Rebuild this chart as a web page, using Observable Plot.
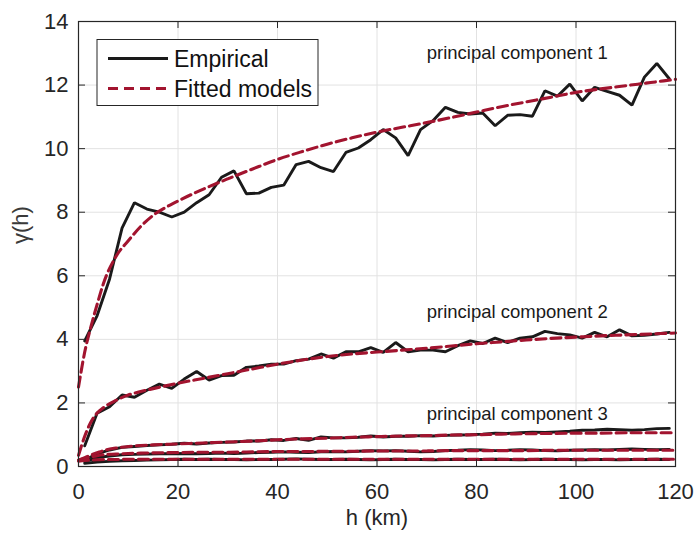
<!DOCTYPE html>
<html>
<head>
<meta charset="utf-8">
<script src="https://cdn.jsdelivr.net/npm/d3@7"></script>
<script src="https://cdn.jsdelivr.net/npm/@observablehq/plot@0.6"></script>
<style>
  html, body { margin: 0; padding: 0; background: #fff; }
  #chart svg { display: block; }
</style>
</head>
<body>
<div id="chart"></div>
<script>
// ---- Data ----
const lagH = [1.25, 3.75, 6.25, 8.75, 11.25, 13.75, 16.25, 18.75, 21.25, 23.75, 26.25, 28.75,
  31.25, 33.75, 36.25, 38.75, 41.25, 43.75, 46.25, 48.75, 51.25, 53.75, 56.25, 58.75,
  61.25, 63.75, 66.25, 68.75, 71.25, 73.75, 76.25, 78.75, 81.25, 83.75, 86.25, 88.75,
  91.25, 93.75, 96.25, 98.75, 101.25, 103.75, 106.25, 108.75, 111.25, 113.75, 116.25, 118.75];

const empPC1 = [3.95, 4.75, 5.9, 7.5, 8.3, 8.1, 8.0, 7.85, 8.0, 8.3, 8.55, 9.1,
  9.3, 8.58, 8.6, 8.78, 8.85, 9.5, 9.6, 9.4, 9.28, 9.88, 10.02, 10.28,
  10.6, 10.34, 9.78, 10.6, 10.88, 11.3, 11.14, 11.09, 11.12, 10.72, 11.05, 11.07,
  11.02, 11.82, 11.65, 12.03, 11.5, 11.93, 11.8, 11.68, 11.37, 12.25, 12.68, 12.2];

const empPC2 = [0.65, 1.68, 1.88, 2.25, 2.18, 2.4, 2.59, 2.46, 2.75, 2.99, 2.72, 2.86,
  2.87, 3.12, 3.16, 3.22, 3.22, 3.33, 3.38, 3.54, 3.41, 3.61, 3.61, 3.74,
  3.59, 3.9, 3.61, 3.66, 3.66, 3.61, 3.8, 3.95, 3.87, 4.04, 3.9, 4.04,
  4.08, 4.25, 4.18, 4.14, 4.04, 4.22, 4.08, 4.3, 4.11, 4.13, 4.17, 4.22];

const empPC3 = [0.2, 0.4, 0.52, 0.6, 0.63, 0.66, 0.68, 0.7, 0.73, 0.71, 0.74, 0.76,
  0.77, 0.8, 0.8, 0.84, 0.82, 0.88, 0.82, 0.93, 0.9, 0.9, 0.92, 0.96,
  0.93, 0.95, 0.95, 0.97, 0.96, 0.98, 0.99, 1.0, 1.02, 1.05, 1.04, 1.06,
  1.08, 1.07, 1.09, 1.11, 1.14, 1.15, 1.17, 1.16, 1.14, 1.16, 1.19, 1.2];

const empPC4 = [0.15, 0.28, 0.33, 0.37, 0.38, 0.39, 0.4, 0.4, 0.41, 0.4, 0.41, 0.42,
  0.41, 0.42, 0.44, 0.45, 0.46, 0.45, 0.44, 0.46, 0.47, 0.46, 0.48, 0.5,
  0.49, 0.5, 0.48, 0.46, 0.47, 0.5, 0.51, 0.53, 0.52, 0.5, 0.51, 0.53,
  0.52, 0.5, 0.49, 0.51, 0.52, 0.53, 0.52, 0.54, 0.55, 0.54, 0.53, 0.54];

const empPC5 = [0.1, 0.14, 0.16, 0.18, 0.19, 0.2, 0.21, 0.22, 0.23, 0.22, 0.23, 0.22,
  0.22, 0.21, 0.22, 0.22, 0.23, 0.24, 0.23, 0.22, 0.22, 0.23, 0.22, 0.21,
  0.22, 0.23, 0.22, 0.22, 0.21, 0.22, 0.23, 0.22, 0.22, 0.23, 0.22, 0.21,
  0.22, 0.23, 0.22, 0.22, 0.21, 0.22, 0.22, 0.21, 0.22, 0.22, 0.23, 0.22];

const fitH = [0, 1.25, 2.5, 3.75, 5, 7.5, 10, 12.5, 15, 20, 25, 30, 35, 40, 45, 50,
  55, 60, 65, 70, 75, 80, 85, 90, 95, 100, 105, 110, 115, 120];
const fitPC1 = [2.5, 3.6, 4.4, 5.1, 5.75, 6.6, 7.1, 7.55, 7.9, 8.35, 8.72, 9.05, 9.36, 9.66, 9.91, 10.14,
  10.34, 10.52, 10.67, 10.82, 10.98, 11.15, 11.32, 11.47, 11.62, 11.77, 11.88, 11.98, 12.08, 12.18];
const fitPC2 = [0.35, 0.95, 1.4, 1.68, 1.85, 2.08, 2.25, 2.36, 2.45, 2.62, 2.77, 2.92, 3.07, 3.22, 3.35, 3.46,
  3.54, 3.6, 3.66, 3.72, 3.79, 3.86, 3.92, 3.98, 4.03, 4.07, 4.11, 4.14, 4.17, 4.2];
const fitPC3 = [0.2, 0.28, 0.36, 0.43, 0.5, 0.58, 0.63, 0.66, 0.68, 0.71, 0.74, 0.77, 0.8, 0.84, 0.87, 0.89,
  0.92, 0.94, 0.96, 0.97, 0.99, 1.0, 1.02, 1.03, 1.04, 1.05, 1.05, 1.06, 1.06, 1.06];
const fitPC4 = [0.2, 0.25, 0.3, 0.34, 0.37, 0.39, 0.41, 0.42, 0.43, 0.44, 0.45, 0.45, 0.46, 0.47, 0.47, 0.48,
  0.48, 0.49, 0.49, 0.49, 0.5, 0.5, 0.5, 0.5, 0.51, 0.51, 0.51, 0.51, 0.51, 0.51];
const fitPC5 = [0.17, 0.19, 0.2, 0.21, 0.22, 0.22, 0.23, 0.23, 0.23, 0.23, 0.23, 0.23, 0.23, 0.23, 0.23, 0.23,
  0.23, 0.23, 0.23, 0.23, 0.23, 0.23, 0.23, 0.23, 0.23, 0.23, 0.23, 0.23, 0.23, 0.23];

const xTicks = [0, 20, 40, 60, 80, 100, 120];
const yTicks = [0, 2, 4, 6, 8, 10, 12, 14];

const labels = [
  {h: 70, v: 13.0, text: "principal component 1"},
  {h: 70, v: 4.86, text: "principal component 2"},
  {h: 70, v: 1.66, text: "principal component 3"}
];
const legendItems = ["Empirical", "Fitted models"];

// ---- Build tables ----
const empSeries = [empPC1, empPC2, empPC3, empPC4, empPC5];
const fitSeries = [fitPC1, fitPC2, fitPC3, fitPC4, fitPC5];
const empRows = empSeries.flatMap((vals, i) => vals.map((v, j) => ({h: lagH[j], v, s: i})));
const fitRows = fitSeries.flatMap((vals, i) => vals.map((v, j) => ({h: fitH[j], v, s: i})));

const ink = "#262626";
const red = "#a2142f";
const font = "'Liberation Sans', Arial, Helvetica, sans-serif";

const W = 696, Hh = 538;
const mL = 78, mR = 21, mT = 21, mB = 72;
const pxX = 120 / (W - mL - mR);
const pxY = 14 / (Hh - mT - mB);
const tickLenX = 7 * pxX, tickLenY = 7 * pxY;

const chart = Plot.plot({
  width: W,
  height: Hh,
  marginLeft: mL,
  marginRight: mR,
  marginTop: mT,
  marginBottom: mB,
  style: {fontFamily: font, color: ink, background: "#fff"},
  x: {domain: [0, 120]},
  y: {domain: [0, 14]},
  marks: [
    Plot.gridX(xTicks, {stroke: "#e2e2e2", strokeOpacity: 1, strokeWidth: 1}),
    Plot.gridY(yTicks, {stroke: "#e2e2e2", strokeOpacity: 1, strokeWidth: 1}),
    Plot.line(empRows, {x: "h", y: "v", z: "s", stroke: "#1a1a1a", strokeWidth: 2.9, strokeLinejoin: "miter"}),
    Plot.line(fitRows, {x: "h", y: "v", z: "s", stroke: red, strokeWidth: 3.1, strokeDasharray: "10,5", curve: "monotone-x"}),
    // inward ticks (MATLAB style) on all four sides
    Plot.ruleY(yTicks, {x1: 0, x2: tickLenX, stroke: ink, strokeWidth: 1}),
    Plot.ruleY(yTicks, {x1: 120 - tickLenX, x2: 120, stroke: ink, strokeWidth: 1}),
    Plot.ruleX(xTicks, {y1: 0, y2: tickLenY, stroke: ink, strokeWidth: 1}),
    Plot.ruleX(xTicks, {y1: 14 - tickLenY, y2: 14, stroke: ink, strokeWidth: 1}),
    Plot.frame({stroke: ink, strokeWidth: 1.2}),
    Plot.axisX(xTicks, {tickSize: 0, tickPadding: 17, fontSize: 22, fill: ink, label: null}),
    Plot.axisY(yTicks, {tickSize: 0, tickPadding: 10, fontSize: 22, fill: ink, label: null}),
    Plot.text(["h (km)"], {frameAnchor: "bottom", dy: 58, fontSize: 22, fill: ink}),
    Plot.text(["γ(h)"], {frameAnchor: "left", dx: -58, rotate: -90, fontSize: 22, fill: "#3a3a3a"}),
    Plot.text(labels, {x: "h", y: "v", text: "text", textAnchor: "start", fontSize: 18.5, fill: "#1a1a1a"})
  ]
});

document.getElementById("chart").appendChild(chart);

// ---- Legend inside the axes (top-left) ----
const svg = d3.select(chart);
const lg = svg.append("g").attr("font-family", font).attr("text-anchor", "start");
lg.append("rect").attr("x", 97).attr("y", 39.5).attr("width", 221).attr("height", 66)
  .attr("fill", "#fff").attr("stroke", ink).attr("stroke-width", 1);
const rowsY = [58.5, 88.5];
legendItems.forEach((t, i) => {
  lg.append("line").attr("x1", 108).attr("x2", 168).attr("y1", rowsY[i]).attr("y2", rowsY[i])
    .attr("stroke", i === 0 ? "#1a1a1a" : red)
    .attr("stroke-width", i === 0 ? 2.9 : 3.1)
    .attr("stroke-dasharray", i === 0 ? null : "10,6");
  lg.append("text").attr("x", 174).attr("y", rowsY[i]).attr("dy", "0.35em")
    .attr("text-anchor", "start")
    .attr("font-size", 23).attr("fill", "#111").text(t);
});
</script>
</body>
</html>
